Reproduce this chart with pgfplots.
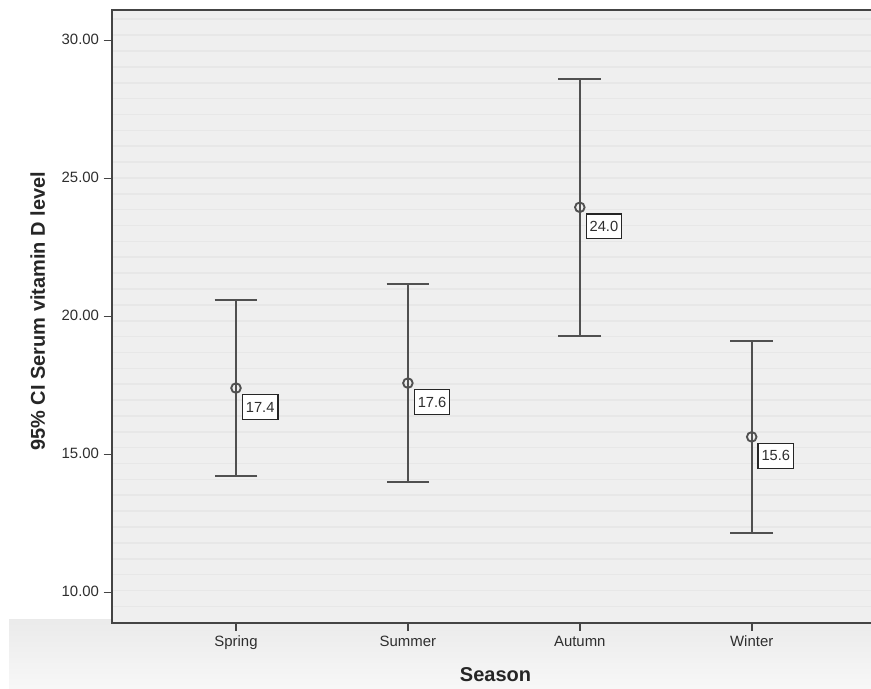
\documentclass[border=0pt]{standalone}
\usepackage{pgfplots}
\usepackage{pgfplotstable}
\pgfplotsset{compat=1.18}
\usepackage{fontspec}
\setmainfont{Liberation Sans}
\definecolor{plotbg}{HTML}{EFEFEF}
\definecolor{stripe}{HTML}{E7E7E7}
\definecolor{axcol}{HTML}{444444}
\definecolor{errc}{HTML}{505050}
\definecolor{txt}{HTML}{2E2E2E}

\pgfplotstableread{
x y ep em lab
0 17.41 3.19 3.19 17.4
1 17.59 3.59 3.57 17.6
2 23.96 4.64 4.66 24.0
3 15.64 3.48 3.47 15.6
}\datatab

\begin{document}
\begin{tikzpicture}
\useasboundingbox (-83.8pt,-49.7pt) rectangle (569.5pt,467pt);
\shade[top color=black!8, bottom color=black!3] (-77pt,-49.7pt) rectangle (569.5pt,2pt);
\begin{axis}[
  at={(0,0)}, anchor=south west,
  scale only axis,
  width=571.7pt, height=459.5pt,
  xmin=-0.723, xmax=3.711,
  ymin=8.91, ymax=31.11,
  axis background/.style={fill=plotbg},
  axis line style={draw=axcol, line width=1.5pt},
  xtick={0,1,2,3},
  xticklabels={Spring,Summer,Autumn,Winter},
  typeset ticklabels with strut,
  ytick={10,15,20,25,30},
  minor ytick={9.499,10.074,...,31.0},
  minor tick length=0pt,
  yminorgrids,
  minor grid style={draw=stripe, line width=1.2pt},
  tick align=outside,
  major tick length=6pt,
  xtick pos=bottom, ytick pos=left,
  tick style={draw=axcol, line width=1.2pt},
  /pgf/number format/assume math mode=true,
  yticklabel style={/pgf/number format/.cd, fixed, fixed zerofill, precision=2},
  ticklabel style={font=\fontsize{11.2pt}{13pt}\selectfont, text=txt},
  xticklabel style={yshift=1pt},
  ylabel={95\% CI Serum vitamin D level},
  xlabel={Season},
  every axis y label/.style={at={(axis description cs:-0.097,0.508)}, rotate=90, anchor=center,
     font=\bfseries\fontsize{15pt}{17pt}\selectfont, text=black!85},
  every axis x label/.style={at={(axis description cs:0.5035,-0.0854)}, anchor=center,
     font=\bfseries\fontsize{15pt}{17pt}\selectfont, text=black!85},
  clip=false,
]
\addplot[
  only marks,
  mark=o, mark size=3.6pt,
  mark options={draw=errc, line width=1.4pt},
  error bars/.cd,
    y dir=both, y explicit,
    error bar style={draw=errc, line width=1.5pt},
    error mark options={rotate=90, mark size=16pt, draw=errc, line width=1.5pt},
] table[x=x, y=y, y error plus=ep, y error minus=em] {\datatab};
\addplot[
  only marks, mark=none,
  point meta=explicit symbolic,
  nodes near coords,
  nodes near coords style={anchor=north west, xshift=4.3pt, yshift=-4.5pt,
     draw=black!85, fill=white, line width=1pt, inner xsep=2.6pt,
     minimum height=18.5pt, font=\fontsize{11pt}{12pt}\selectfont, text=txt},
] table[x=x, y=y, meta=lab] {\datatab};
\end{axis}
\end{tikzpicture}
\end{document}
